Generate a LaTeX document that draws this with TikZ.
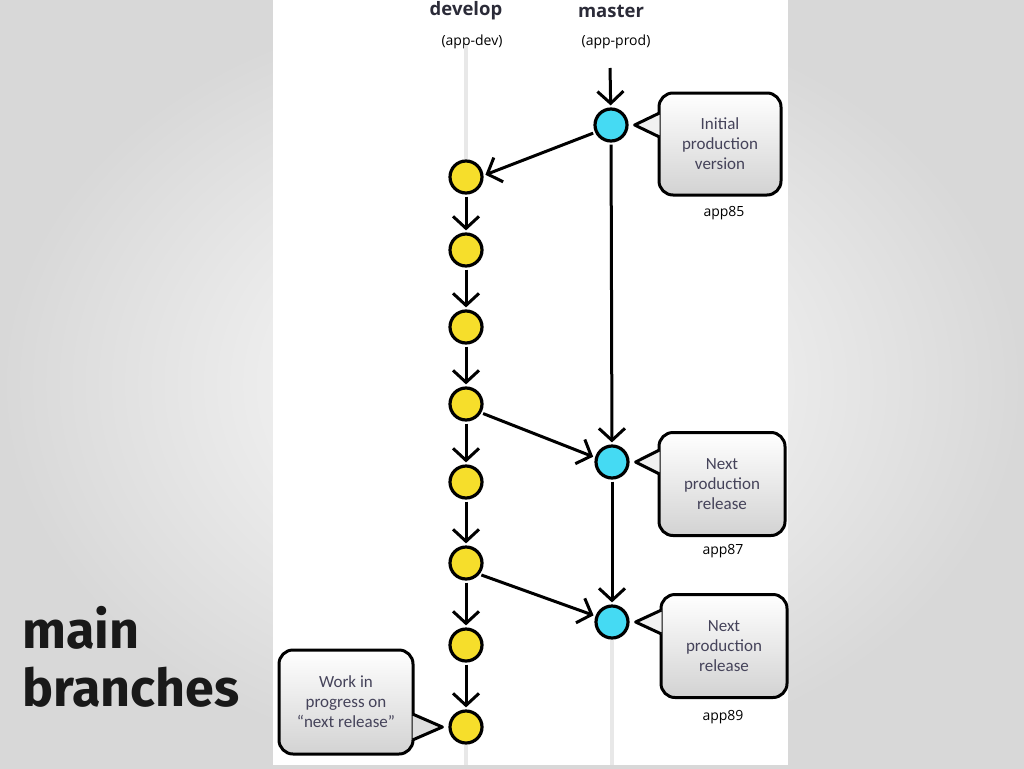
\documentclass[tikz,border=0pt]{standalone}
\usepackage{fontspec}
\setmainfont{Open Sans}
\newfontfamily\notefont{Carlito}
\newfontfamily\slidefont{Fira Sans}
\usetikzlibrary{arrows.meta,calc}
\definecolor{devyellow}{HTML}{F6DE2B}
\definecolor{relcyan}{HTML}{45DAF3}
\definecolor{notetext}{HTML}{45435A}
\definecolor{titletext}{HTML}{2B2B38}
\definecolor{bggray}{HTML}{D8D8D8}

\begin{document}
\begin{tikzpicture}[x=1pt,y=-1pt,
  dev/.style={circle, draw=black, line width=3.2pt, fill=devyellow, minimum size=32pt, inner sep=0pt},
  rel/.style={dev, fill=relcyan},
  flow/.style={-{Straight Barb[length=12pt,width=26pt]}, line width=3pt, shorten >=2pt, shorten <=2pt},
  note/.style={draw=black, line width=3pt, rounded corners=14pt, top color=white, bottom color=gray!35,
    text=notetext, align=center, font=\notefont\fontsize{17}{20}\selectfont,
    minimum width=122pt, minimum height=102pt},
  pointer/.style={draw=black, line width=3pt, fill=gray!11, line join=round},
  guide/.style={gray!18, line width=4pt},
  tag/.style={font=\fontsize{14}{16}\selectfont}]
  \useasboundingbox (0,0) rectangle (1024,768);
  \shade[inner color=white, outer color=bggray] (0,0) rectangle (1024,768);
  \fill[white] (273,0) rectangle (788,765);

  % branch names
  \node[font=\bfseries\fontsize{18.5}{20}\selectfont, text=titletext] (devtitle) at (466,11) {develop};
  \node[font=\bfseries\fontsize{18.5}{20}\selectfont, text=titletext] (mastitle) at (611,11) {master};
  \node[tag] (devapp) at (472,42) {(app-dev)};
  \node[tag] (masapp) at (616,42) {(app-prod)};

  % commits
  \node[rel] (m1) at (611,125) {};
  \node[rel] (m2) at (612,462) {};
  \node[rel] (m3) at (612,622) {};
  \foreach \y [count=\i] in {177,250,327,404,482,563,645,727}
    \node[dev] (d\i) at (466,\y) {};

  \coordinate (devtop) at (466,45);
  \coordinate (devend) at (466,765);
  \coordinate (masend) at (612,765);
  \coordinate (masin) at (610,66);
  \draw[guide] (devtop) -- (d1.north);
  \draw[guide] (d8.south) -- (devend);
  \draw[guide] (m3.south) -- (masend);

  % history
  \draw[flow] (masin) -- (m1);
  \draw[flow] (m1.205) -- (d1.5);
  \foreach \i in {1,...,7} {
    \pgfmathtruncatemacro\j{\i+1}
    \draw[flow] (d\i) -- (d\j);
  }
  \draw[flow] (m1) -- (m2);
  \draw[flow] (m2) -- (m3);
  \draw[flow] (d4.-30) -- (m2.165);
  \draw[flow] (d6.-40) -- (m3.160);

  % notes
  \node[note] (n1) at (720,144) {Initial\\production\\version};
  \node[note, minimum width=126pt, minimum height=103pt] (n2) at (722,484) {Next\\production\\release};
  \node[note, minimum width=126pt, minimum height=103pt] (n3) at (724,646) {Next\\production\\release};
  \node[note, minimum width=134pt, minimum height=104pt] (n4) at (346,702) {Work in\\progress on\\“next release”};
  \draw[pointer] ($(n1.west |- m1)+(2,-12)$) -- ($(m1.east)+(6,0)$) -- ($(n1.west |- m1)+(2,12)$);
  \draw[pointer] ($(n2.west |- m2)+(2,-12)$) -- ($(m2.east)+(6,0)$) -- ($(n2.west |- m2)+(2,12)$);
  \draw[pointer] ($(n3.west |- m3)+(2,-12)$) -- ($(m3.east)+(6,0)$) -- ($(n3.west |- m3)+(2,12)$);
  \draw[pointer, fill=gray!26] ($(n4.east |- d8)+(-2,-13)$) -- ($(d8.west)+(-6,0)$) -- ($(n4.east |- d8)+(-2,13)$);

  \node[tag] (v85) at (724,213) {app85};
  \node[tag] (v87) at (723,551) {app87};
  \node[tag] (v89) at (723,717) {app89};

  \node[anchor=north west, inner sep=0pt, align=left, text=black!90,
    font=\slidefont\bfseries\fontsize{52}{58}\selectfont] (heading) at (22,606) {main\\branches};
\end{tikzpicture}
\end{document}
